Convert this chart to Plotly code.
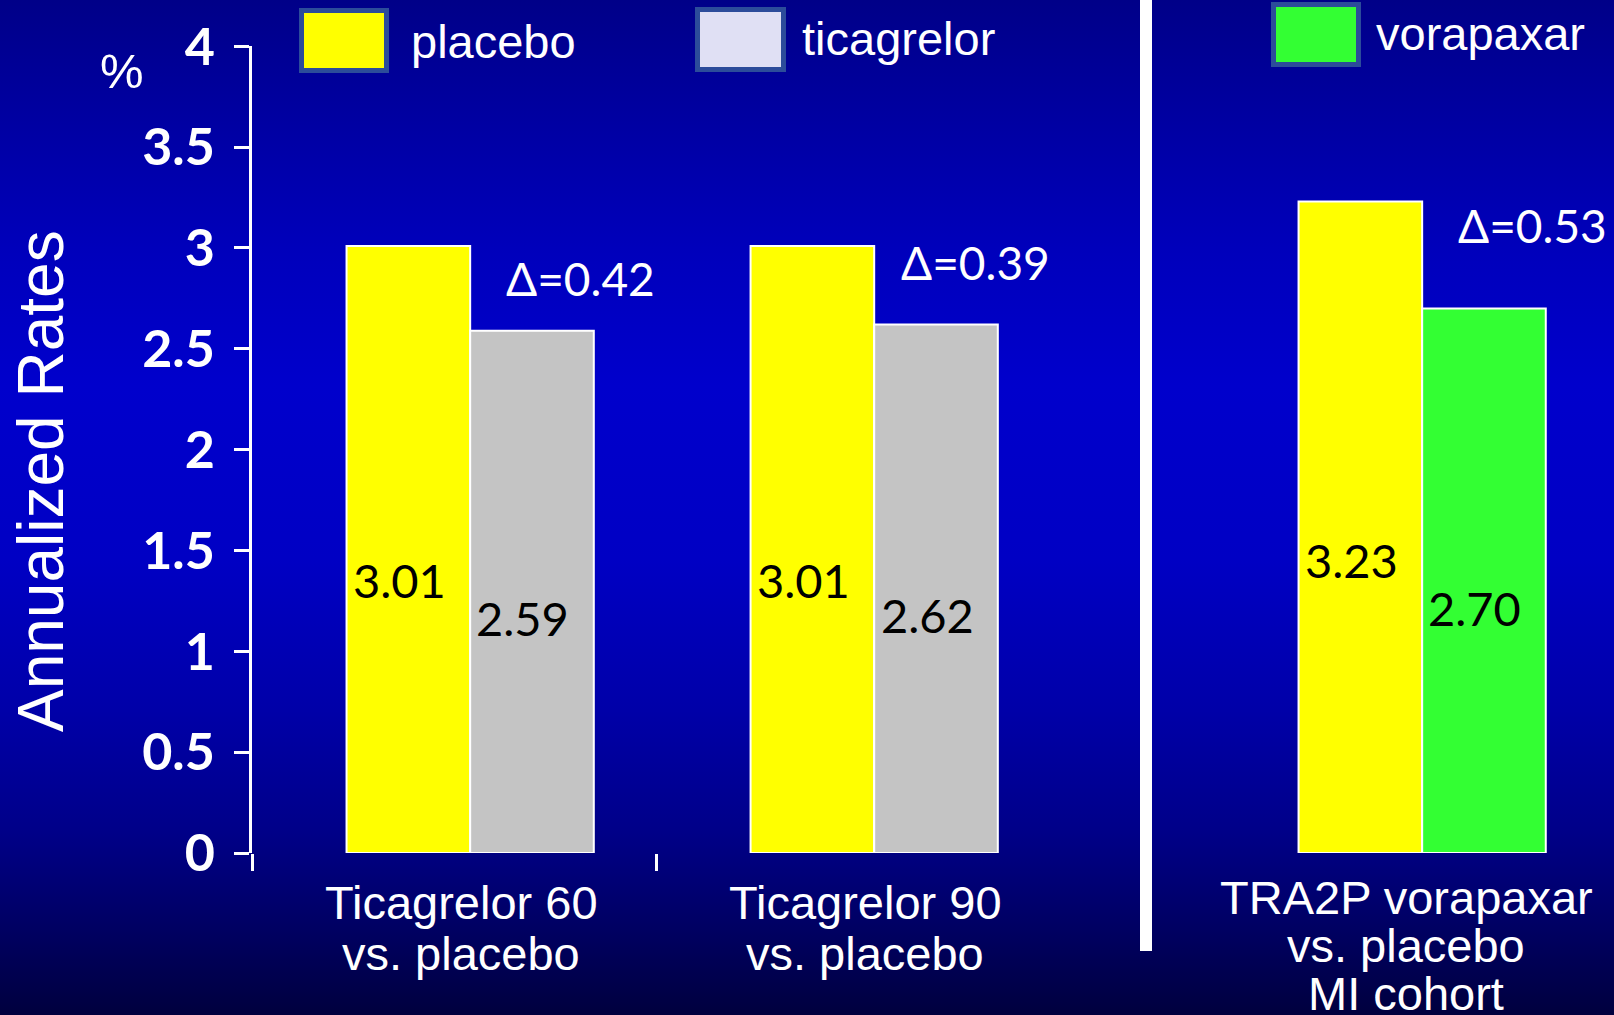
import base64
import plotly.graph_objects as go

# ---- data ----------------------------------------------------------------
left_categories = ["Ticagrelor 60", "Ticagrelor 90"]
right_categories = ["TRA2P vorapaxar"]
category_label_lines = [
    ["Ticagrelor 60", "vs. placebo"],
    ["Ticagrelor 90", "vs. placebo"],
    ["TRA2P vorapaxar", "vs. placebo", "MI cohort"],
]
placebo_left = [3.01, 3.01]
ticagrelor_rates = [2.59, 2.62]
placebo_right = [3.23]
vorapaxar_rates = [2.70]
y_tick_values = [0, 0.5, 1, 1.5, 2, 2.5, 3, 3.5, 4]
y_tick_labels = ["0", "0.5", "1", "1.5", "2", "2.5", "3", "3.5", "4"]
legend_names = ["placebo", "ticagrelor", "vorapaxar"]

# ---- styling -------------------------------------------------------------
W, H = 1614, 1015
YELLOW = "#FFFF00"
GREY = "#C4C4C4"
GREEN = "#33FF33"
TICA_KEY = "#E0E0F4"
KEY_EDGE = "#2C4C9A"
ARIAL = "Liberation Sans, Arial, sans-serif"
CALIBRI = "Lato, Noto Sans, sans-serif"

BAR_W = 0.306
OFF_A = -0.266
OFF_B = 0.040
LABEL_FRAC = 0.45


def px(x):
    return x / W


def py(y):
    return 1 - y / H


# vertical blue gradient backdrop
stops = [
    (0.00, "#000088"), (0.10, "#00009E"), (0.25, "#0000BC"),
    (0.38, "#0000CC"), (0.55, "#0000C4"), (0.70, "#0000A8"),
    (0.82, "#000088"), (0.92, "#000060"), (1.00, "#00003E"),
]
svg = (
    f'<svg xmlns="http://www.w3.org/2000/svg" width="{W}" height="{H}" '
    f'viewBox="0 0 {W} {H}" preserveAspectRatio="none">'
    '<defs><linearGradient id="g" x1="0" y1="0" x2="0" y2="1">'
    + "".join(f'<stop offset="{o}" stop-color="{c}"/>' for o, c in stops)
    + '</linearGradient></defs>'
    f'<rect width="{W}" height="{H}" fill="url(#g)"/></svg>'
)
bg_src = "data:image/svg+xml;base64," + base64.b64encode(svg.encode()).decode()

bar_line = dict(color="white", width=2)

fig = go.Figure()
fig.add_trace(go.Bar(x=left_categories, y=placebo_left, xaxis="x", yaxis="y",
                     width=BAR_W, offset=OFF_A, marker=dict(color=YELLOW, line=bar_line),
                     name=legend_names[0], showlegend=False))
fig.add_trace(go.Bar(x=left_categories, y=ticagrelor_rates, xaxis="x", yaxis="y",
                     width=BAR_W, offset=OFF_B, marker=dict(color=GREY, line=bar_line),
                     name=legend_names[1], showlegend=False))
fig.add_trace(go.Bar(x=right_categories, y=placebo_right, xaxis="x2", yaxis="y2",
                     width=BAR_W, offset=OFF_A, marker=dict(color=YELLOW, line=bar_line),
                     name=legend_names[0], showlegend=False))
fig.add_trace(go.Bar(x=right_categories, y=vorapaxar_rates, xaxis="x2", yaxis="y2",
                     width=BAR_W, offset=OFF_B, marker=dict(color=GREEN, line=bar_line),
                     name=legend_names[2], showlegend=False))

annotations = []

# value labels inside the bars
panels = [("x", "y", placebo_left, ticagrelor_rates),
          ("x2", "y2", placebo_right, vorapaxar_rates)]
for xref, yref, pla, act in panels:
    for i, (p, a) in enumerate(zip(pla, act)):
        for v, off in ((p, OFF_A), (a, OFF_B)):
            annotations.append(dict(
                x=i + off + BAR_W / 2, y=v * LABEL_FRAC, xref=xref, yref=yref,
                xanchor="center", yanchor="middle",
                text=f"{v:.2f}", showarrow=False, xshift=-9,
                font=dict(family=CALIBRI, size=47, color="black")))

# difference labels above the active-drug bars
delta_y = [2.85, 2.93, 3.11]
delta_xshift = [49, 39, 49]
deltas = [(xr, yr, i, p - a) for xr, yr, pla, act in panels
          for i, (p, a) in enumerate(zip(pla, act))]
for k, (xr, yr, i, d) in enumerate(deltas):
    annotations.append(dict(
        x=i + OFF_B + BAR_W / 2, y=delta_y[k], xref=xr, yref=yr,
        xanchor="center", yanchor="middle",
        text=f"\u0394={d:.2f}", showarrow=False, xshift=delta_xshift[k],
        font=dict(family=CALIBRI, size=46, color="white")))

# category labels under each group
cat_refs = [("x", 0, 7), ("x", 1, 7), ("x2", 0, 0)]
label_top = [902, 902, 897]
label_step = [51, 51, 48]
for (xr, idx, xs), lines, top, step in zip(cat_refs, category_label_lines,
                                           label_top, label_step):
    for j, line in enumerate(lines):
        annotations.append(dict(
            x=idx, xref=xr, y=py(top + step * j), yref="paper",
            xanchor="center", yanchor="middle",
            text=line, showarrow=False, xshift=xs,
            font=dict(family=ARIAL, size=47, color="white")))

# axis title and unit
annotations.append(dict(x=px(41), y=py(481), xref="paper", yref="paper",
                        xanchor="center", yanchor="middle",
                        text="Annualized Rates", textangle=-90, showarrow=False,
                        font=dict(family=ARIAL, size=64, color="white")))
annotations.append(dict(x=px(122), y=py(71), xref="paper", yref="paper",
                        xanchor="center", yanchor="middle",
                        text="%", showarrow=False,
                        font=dict(family=ARIAL, size=49, color="white")))

# legend keys
shapes = []
key_specs = [
    (YELLOW, (299, 8, 389, 73), (409, 41)),
    (TICA_KEY, (695, 7, 786, 72), (800, 38)),
    (GREEN, (1271, 2, 1361, 67), (1374, 33)),
]
for name, (fill, (x0, y0, x1, y1), (tx, ty)) in zip(legend_names, key_specs):
    shapes.append(dict(type="rect", xref="paper", yref="paper",
                       x0=px(x0 + 2.5), x1=px(x1 - 2.5), y0=py(y0 + 2.5), y1=py(y1 - 2.5),
                       fillcolor=fill, line=dict(color=KEY_EDGE, width=5), layer="above"))
    annotations.append(dict(x=px(tx), y=py(ty), xref="paper", yref="paper",
                            xanchor="left", yanchor="middle", text=name, showarrow=False,
                            font=dict(family=ARIAL, size=47, color="white")))

# divider between the two trials
shapes.append(dict(type="line", xref="paper", yref="paper",
                   x0=px(1146), x1=px(1146), y0=py(0), y1=py(951),
                   line=dict(color="white", width=12), layer="above"))

y_domain = [py(853), py(46.3)]
fig.update_layout(
    width=W, height=H,
    autosize=False,
    margin=dict(l=0, r=0, t=0, b=0, pad=0, autoexpand=False),
    paper_bgcolor="#00009A",
    plot_bgcolor="rgba(0,0,0,0)",
    barmode="overlay",
    images=[dict(source=bg_src, xref="paper", yref="paper", x=0, y=1,
                 xanchor="left", yanchor="top",
                 sizex=1, sizey=1, sizing="stretch", layer="below")],
    xaxis=dict(type="category", domain=[px(252), px(1056)], range=[-0.5, 1.49],
               anchor="y", showline=False, showgrid=False, zeroline=False,
               showticklabels=False, ticks="outside", tickson="boundaries",
               ticklen=17, tickwidth=2.5, tickcolor="white", automargin=False),
    yaxis=dict(domain=y_domain, range=[0, 4], anchor="x",
               showline=True, linecolor="white", linewidth=2.5,
               ticks="outside", ticklen=15, tickwidth=2.5, tickcolor="white",
               tickvals=y_tick_values, ticktext=y_tick_labels,
               tickfont=dict(family=CALIBRI, size=52, color="white", weight="bold"),
               ticklabelstandoff=9, showgrid=False, zeroline=False, automargin=False),
    xaxis2=dict(type="category", domain=[px(1204), px(1608)], range=[-0.5, 0.5],
                anchor="y2", showline=False, showgrid=False, zeroline=False,
                showticklabels=False, ticks="", automargin=False),
    yaxis2=dict(domain=y_domain, range=[0, 4], anchor="x2", visible=False,
                automargin=False),
    annotations=annotations,
    shapes=shapes,
)

fig.write_html("out.html")
